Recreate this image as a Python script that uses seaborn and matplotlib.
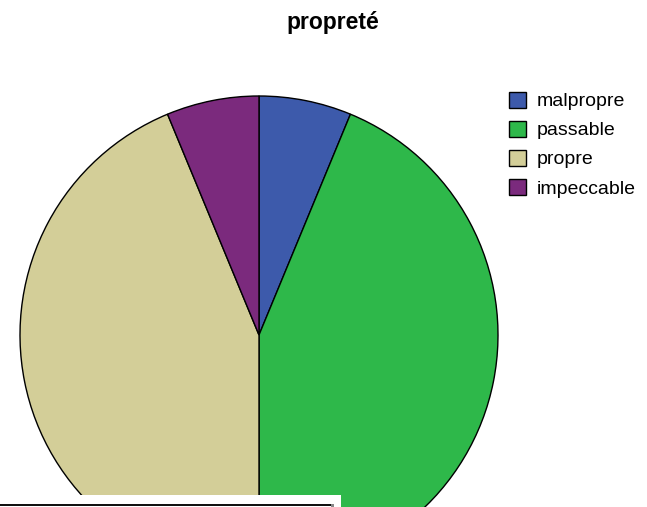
import matplotlib
matplotlib.use("Agg")
import matplotlib.pyplot as plt
import seaborn as sns
from matplotlib.patches import Rectangle

categories = ["malpropre", "passable", "propre", "impeccable"]
counts = [1, 7, 7, 1]
colors = ["#3D5AAB", "#2EB84A", "#D3CE98", "#7B2A7D"]
title = "propreté"

sns.set_style("white")
plt.rcParams["font.family"] = ["Liberation Sans", "DejaVu Sans"]
plt.rcParams["text.color"] = "black"

W, H = 647, 507
fig = plt.figure(figsize=(W / 100, H / 100), dpi=100)
fig.patch.set_facecolor("white")

cx, cy, r = 259, 335, 239
ax = fig.add_axes([(cx - r) / W, (H - cy - r) / H, 2 * r / W, 2 * r / H])
wedges, _ = ax.pie(counts, colors=colors, startangle=90, counterclock=False,
                   wedgeprops=dict(edgecolor="black", linewidth=1.0), radius=1.0)
ax.set_xlim(-1, 1)
ax.set_ylim(-1, 1)
ax.set_aspect("auto")
ax.axis("off")

fig.text(333 / W, 1 - 22 / H, title, ha="center", va="center",
         fontsize=16.5, fontweight="bold", color="black")

leg = fig.legend(wedges, categories, loc="upper left",
                 bbox_to_anchor=(493 / W, 1 - 76 / H), frameon=False,
                 fontsize=14, handlelength=0.9, handleheight=0.9,
                 handletextpad=0.55, labelspacing=0.53, borderpad=0.3)
for t in leg.get_texts():
    t.set_color("black")

# bottom overlay artifact (white panel with black rule)
fig.patches.append(Rectangle((0, 0), 341 / W, 12 / H, transform=fig.transFigure,
                             facecolor="white", edgecolor="none", zorder=10))
fig.patches.append(Rectangle((0, 1 / H), 331 / W, 2.5 / H, transform=fig.transFigure,
                             facecolor="#111111", edgecolor="none", zorder=11))
fig.patches.append(Rectangle((331 / W, 0.5 / H), 3 / W, 3 / H, transform=fig.transFigure,
                             facecolor="#888888", edgecolor="none", zorder=11))

fig.savefig("out.png", dpi=100)
